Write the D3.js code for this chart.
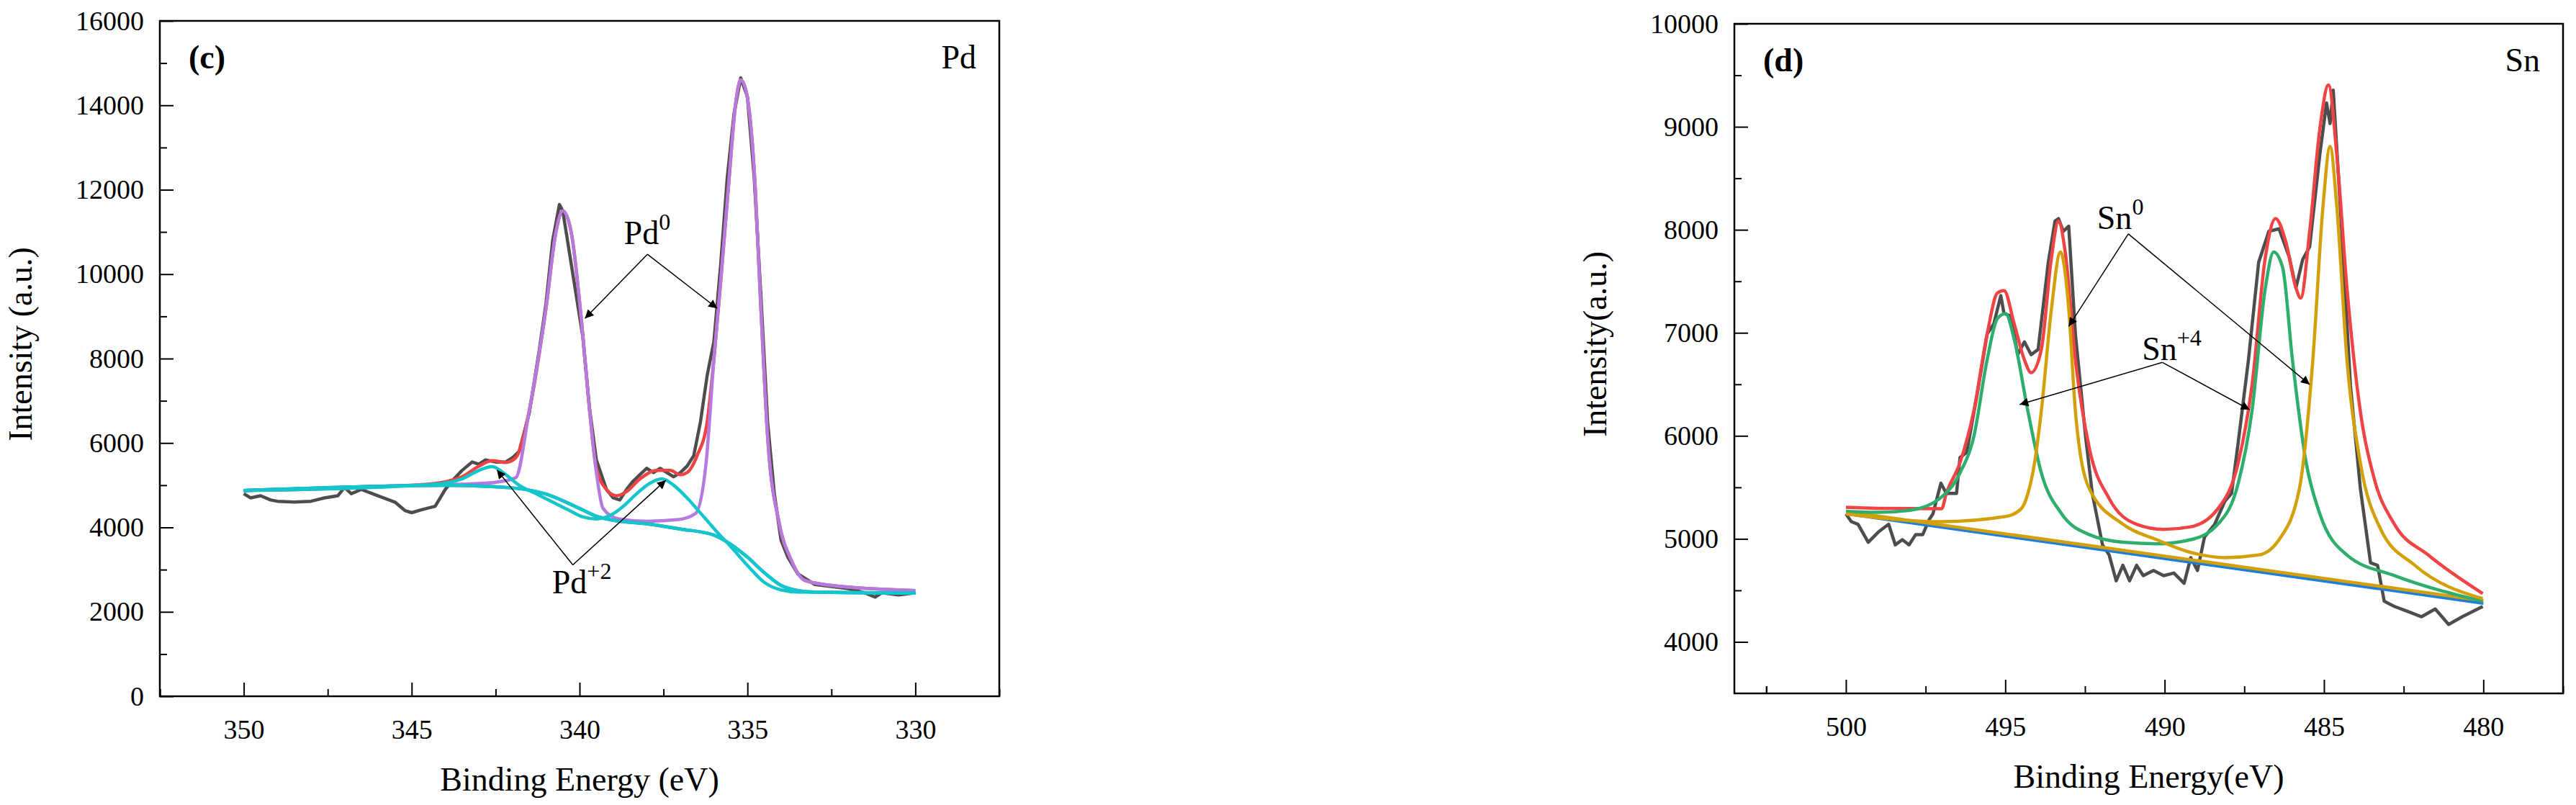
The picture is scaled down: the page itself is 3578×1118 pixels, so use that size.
<!DOCTYPE html>
<html>
<head>
<meta charset="utf-8">
<script src="https://cdn.jsdelivr.net/npm/d3@7"></script>
<style>
  body { margin: 0; background: #fff; }
  text { font-family: "Liberation Serif", "Times New Roman", serif; }
</style>
</head>
<body>
<div class="chart"></div>
<script>
// ---- Pd 3d data (eV, intensity) ----
var pdRaw = [[350,4800],[349.8,4700],[349.5,4750],[349.2,4650],[349,4620],[348.5,4600],[348,4620],[347.6,4700],[347.2,4750],[347,4950],[346.8,4800],[346.5,4900],[346,4750],[345.5,4600],[345.2,4400],[345,4350],[344.7,4420],[344.3,4500],[344,4900],[343.8,5100],[343.5,5350],[343.2,5550],[343,5500],[342.8,5600],[342.5,5550],[342.2,5550],[342,5650],[341.8,5800],[341.5,6700],[341.2,8200],[341,9300],[340.8,10800],[340.6,11650],[340.5,11500],[340.3,10500],[340.1,9500],[339.9,8500],[339.7,6800],[339.5,5600],[339.2,4900],[339,4700],[338.8,4650],[338.6,4900],[338.4,5100],[338.2,5250],[338,5400],[337.8,5300],[337.6,5400],[337.4,5300],[337.2,5200],[337,5300],[336.8,5450],[336.6,5700],[336.4,6500],[336.2,7600],[336,8400],[335.8,10200],[335.6,12300],[335.4,13800],[335.2,14650],[335,14200],[334.8,12300],[334.6,9500],[334.4,6500],[334.2,4800],[334,3700],[333.8,3300],[333.5,2900],[333,2650],[332.5,2600],[332,2550],[331.5,2450],[331.2,2350],[331,2450],[330.5,2400],[330,2450]];
var pdEnvelope = [[350,4875],[345,5000],[344,5080],[343.5,5200],[343,5450],[342.6,5580],[342.2,5540],[341.9,5650],[341.5,6760],[341,9190],[340.7,11015],[340.5,11500],[340.25,11000],[339.95,8950],[339.7,6760],[339.5,5400],[339.2,4900],[338.9,4750],[338.6,4850],[338.2,5150],[337.7,5350],[337.3,5350],[337,5250],[336.8,5300],[336.5,5700],[336.2,6500],[336,7976],[335.8,9800],[335.55,12231],[335.35,14055],[335.2,14602],[335.03,14298],[334.8,12474],[334.6,9191],[334.4,6152],[334.05,4085],[333.7,3234],[333.3,2748],[332.5,2626],[330,2505]];
var pdZero = [[350,4875],[345,5000],[343,5040],[342.5,5070],[341.9,5179],[341.5,6760],[341,9190],[340.7,11015],[340.5,11500],[340.25,11000],[339.95,8950],[339.7,6760],[339.5,5301],[339.3,4450],[338.85,4207],[338,4146],[337.1,4182],[336.55,4328],[336.23,5544],[336,7976],[335.8,9800],[335.55,12231],[335.35,14055],[335.2,14602],[335.03,14298],[334.8,12474],[334.6,9191],[334.4,6152],[334.05,4085],[333.7,3234],[333.3,2748],[332.5,2626],[330,2505]];
var pdTwo = [[350,4875],[345,4990],[344,5050],[343.5,5150],[343,5350],[342.6,5440],[342.2,5250],[341.8,5000],[341.3,4800],[340.8,4600],[340.3,4400],[339.9,4250],[339.5,4200],[339.1,4280],[338.7,4500],[338.3,4800],[337.9,5050],[337.55,5150],[337.2,5000],[336.8,4700],[336.3,4250],[335.8,3800],[335.5,3550],[335,3100],[334.5,2700],[334,2520],[333.5,2470],[330,2445]];
var pdBackground = [[350,4875],[345,4990],[344,5000],[342,4936],[341,4790],[340,4450],[339.5,4268],[339,4170],[338,4085],[337,3963],[336,3818],[335.5,3600],[335,3295],[334.5,2930],[334,2626],[333.5,2505],[333,2468],[330,2444]];

// ---- Sn 3d data ----
var snRaw = [[500,5242],[499.83,5167],[499.62,5142],[499.3,4967],[498.98,5067],[498.66,5142],[498.45,4942],[498.23,4992],[498.02,4942],[497.81,5042],[497.59,5042],[497.38,5192],[497.27,5242],[497.02,5541],[496.85,5441],[496.53,5441],[496.42,5790],[496.21,5840],[495.89,6389],[495.57,6987],[495.36,7087],[495.14,7361],[495.04,7187],[494.82,7162],[494.61,6788],[494.4,6912],[494.19,6788],[493.97,6838],[493.65,7685],[493.44,8085],[493.33,8109],[493.18,7985],[493.01,8035],[492.8,6987],[492.48,5990],[492.27,5441],[491.95,4942],[491.74,4843],[491.52,4593],[491.31,4743],[491.1,4593],[490.88,4743],[490.67,4643],[490.35,4693],[490.03,4643],[489.71,4668],[489.39,4568],[489.18,4818],[488.97,4693],[488.75,5017],[488.43,5142],[488.11,5366],[487.9,5441],[487.69,5940],[487.37,6738],[487.05,7685],[486.73,7985],[486.41,8010],[486.09,7735],[485.88,7436],[485.67,7711],[485.45,7835],[485.13,8733],[484.92,9231],[484.81,9032],[484.71,9356],[484.49,8234],[484.17,6488],[483.86,5491],[483.54,4768],[483.32,4743],[483.11,4394],[482.79,4344],[482.36,4294],[481.94,4244],[481.51,4319],[481.09,4169],[480.66,4244],[480.02,4344]];
var snEnvelope = [[500,5307],[499,5297],[497,5292],[496.85,5441],[496.42,5740],[495.99,6239],[495.57,6987],[495.25,7386],[495.04,7411],[494.72,7087],[494.4,6738],[494.19,6613],[493.87,6838],[493.55,7735],[493.33,8085],[493.12,7785],[492.8,6738],[492.37,5890],[491.74,5391],[490.88,5142],[490.03,5092],[489.18,5117],[488.33,5292],[487.69,5740],[487.26,6488],[486.84,7735],[486.52,8110],[486.2,7885],[485.88,7436],[485.73,7337],[485.45,7985],[485.13,8982],[484.86,9406],[484.6,8733],[484.28,7436],[483.86,6239],[483.43,5591],[482.79,5142],[481.73,4843],[480.02,4469]];
var snFour = [[500,5267],[499,5257],[498,5277],[497.06,5391],[496.42,5641],[495.99,5990],[495.57,6738],[495.25,7137],[494.99,7187],[494.72,6938],[494.29,6239],[493.87,5641],[493.23,5242],[492.37,5042],[491.31,4967],[490.25,4952],[489.18,4992],[488.33,5142],[487.69,5541],[487.26,6239],[486.84,7436],[486.58,7785],[486.3,7636],[485.99,6738],[485.56,5740],[485.13,5242],[484.28,4843],[482.79,4643],[480.02,4394]];
var snZero = [[500,5242],[497,5167],[494.99,5217],[494.5,5292],[494.29,5441],[494.08,5740],[493.87,6239],[493.55,7237],[493.27,7785],[493.01,7237],[492.8,6239],[492.37,5491],[491.31,5142],[490.25,4992],[489.18,4868],[488.11,4818],[487.05,4843],[486.41,4992],[485.77,5491],[485.35,6738],[485.03,8234],[484.81,8808],[484.6,8234],[484.28,6738],[483.86,5740],[483.22,5092],[482.15,4743],[480.02,4419]];
var snBackground = [[500,5245],[480,4375]];
var snBackground2 = [[500,5265],[480,4400]];

var xTicksPd = [350,345,340,335,330];
var yTicksPd = [0,2000,4000,6000,8000,10000,12000,14000,16000];
var xTicksSn = [500,495,490,485,480];
var yTicksSn = [4000,5000,6000,7000,8000,9000,10000];

var svg = d3.select(".chart")
    .append("svg")
    .attr("width", 3578)
    .attr("height", 1118)

svg.append("defs").append("marker")
    .attr("id", "arrow")
    .attr("viewBox", "0 0 10 10")
    .attr("refX", 10).attr("refY", 5)
    .attr("markerWidth", 22).attr("markerHeight", 12)
    .attr("markerUnits", "userSpaceOnUse")
    .attr("orient", "auto")
    .append("path")
    .attr("d", "M0,0 L10,5 L0,10 Z")
    .attr("fill", "#000")

function panel(p) {
    var x = d3.scaleLinear().domain(p.xDomain).range(p.xRange);
    var y = d3.scaleLinear().domain(p.yDomain).range(p.yRange);
    var g = svg.append("g");

    // frame
    g.append("rect")
        .attr("x", p.xRange[0]).attr("y", p.yRange[1])
        .attr("width", p.xRange[1] - p.xRange[0])
        .attr("height", p.yRange[0] - p.yRange[1])
        .attr("fill", "none").attr("stroke", "#000").attr("stroke-width", 2.5)

    // x axis, ticks inside
    var xMinor = d3.range(p.xTicks[0] + 2.5, p.xTicks[p.xTicks.length - 1] - 2.6, -5);
    xMinor.push(p.xTicks[0] + 2.5 - 5 < p.xDomain[0] ? p.xTicks[0] + 2.5 : p.xTicks[0] + 2.5);
    g.append("g")
        .attr("transform", "translate(0," + p.yRange[0] + ")")
        .call(d3.axisBottom(x).tickValues(p.xTicks).tickSize(-19).tickSizeOuter(0).tickPadding(30))
        .call(function (a) { a.select(".domain").remove(); })
        .call(function (a) { a.selectAll("line").attr("stroke-width", 2); })
        .call(function (a) { a.selectAll("text").attr("font-size", 38).attr("font-family", "Liberation Serif").attr("dy", "0.75em"); })
    g.append("g")
        .attr("transform", "translate(0," + p.yRange[0] + ")")
        .call(d3.axisBottom(x).tickValues(xMinor).tickSize(-10).tickFormat(""))
        .call(function (a) { a.select(".domain").remove(); a.selectAll("line").attr("stroke-width", 2); })

    // y axis
    var yMinor = p.yTicks.slice(0, -1).map(function (v, i) { return (v + p.yTicks[i + 1]) / 2; });
    g.append("g")
        .attr("transform", "translate(" + p.xRange[0] + ",0)")
        .call(d3.axisLeft(y).tickValues(p.yTicks).tickSize(-19).tickPadding(22).tickFormat(d3.format("d")))
        .call(function (a) { a.select(".domain").remove(); a.selectAll("line").attr("stroke-width", 2); })
        .call(function (a) { a.selectAll("text").attr("font-size", 38).attr("font-family", "Liberation Serif"); })
    g.append("g")
        .attr("transform", "translate(" + p.xRange[0] + ",0)")
        .call(d3.axisLeft(y).tickValues(yMinor).tickSize(-10).tickFormat(""))
        .call(function (a) { a.select(".domain").remove(); a.selectAll("line").attr("stroke-width", 2); })

    // curves
    p.series.forEach(function (s) {
        var line = d3.line()
            .x(function (d) { return x(d[0]); })
            .y(function (d) { return y(d[1]); })
            .curve(s.smooth ? d3.curveMonotoneX : d3.curveLinear);
        g.append("path")
            .datum(s.data)
            .attr("d", line)
            .attr("fill", "none")
            .attr("stroke", s.color)
            .attr("stroke-width", 4.5)
            .attr("stroke-linejoin", "round")
    });

    // annotations
    p.notes.forEach(function (n) {
        n.tips.forEach(function (t) {
            g.append("line")
                .attr("x1", x(n.from[0])).attr("y1", y(n.from[1]))
                .attr("x2", x(t[0])).attr("y2", y(t[1]))
                .attr("stroke", "#000").attr("stroke-width", 1.5)
                .attr("marker-end", "url(#arrow)")
        });
        var t = g.append("text")
            .attr("x", x(n.at[0])).attr("y", y(n.at[1]))
            .attr("font-size", 46)
            .text(n.label);
        t.append("tspan").attr("font-size", 32).attr("dy", -20).text(n.sup);
    });

    g.append("text")
        .attr("x", p.xRange[0] + 40).attr("y", p.yRange[1] + 66)
        .attr("font-size", 46).attr("font-weight", "bold")
        .text(p.tag)
    g.append("text")
        .attr("x", p.xRange[1] - 32).attr("y", p.yRange[1] + 66)
        .attr("font-size", 46).attr("text-anchor", "end")
        .text(p.element)
    g.append("text")
        .attr("x", (p.xRange[0] + p.xRange[1]) / 2).attr("y", p.yRange[0] + 131)
        .attr("font-size", 46).attr("text-anchor", "middle")
        .text(p.xTitle)
    g.append("text")
        .attr("transform", "translate(" + (p.xRange[0] - 178) + "," + ((p.yRange[0] + p.yRange[1]) / 2 - 20) + ") rotate(-90)")
        .attr("font-size", 46).attr("text-anchor", "middle")
        .text(p.yTitle)
}

panel({
    xDomain: [352.5, 327.5], xRange: [222, 1388],
    yDomain: [0, 16000], yRange: [967, 29],
    xTicks: xTicksPd, yTicks: yTicksPd,
    tag: "(c)", element: "Pd",
    xTitle: "Binding Energy (eV)", yTitle: "Intensity (a.u.)",
    series: [
        { data: pdRaw, color: "#4d4d4d" },
        { data: pdEnvelope, color: "#f04444", smooth: true },
        { data: pdZero, color: "#b57ae0", smooth: true },
        { data: pdBackground, color: "#1a7de0", smooth: true },
        { data: pdTwo, color: "#12c6cc", smooth: true },
        { data: pdBackground, color: "#12c6cc", smooth: true }
    ],
    notes: [
        { label: "Pd", sup: "0", at: [338.68, 10710], from: [337.98, 10470], tips: [[339.84, 8950], [335.9, 9190]] },
        { label: "Pd", sup: "+2", at: [340.82, 2444], from: [340.2, 3112], tips: [[342.46, 5362], [337.43, 5119]] }
    ]
});

panel({
    xDomain: [503.5, 477.5], xRange: [2409, 3560],
    yDomain: [3500, 10000], yRange: [963, 33],
    xTicks: xTicksSn, yTicks: yTicksSn,
    tag: "(d)", element: "Sn",
    xTitle: "Binding Energy(eV)", yTitle: "Intensity(a.u.)",
    series: [
        { data: snRaw, color: "#4d4d4d" },
        { data: snBackground, color: "#1a7de0" },
        { data: snBackground2, color: "#d4a00a" },
        { data: snEnvelope, color: "#f04444", smooth: true },
        { data: snFour, color: "#2eae6c", smooth: true },
        { data: snZero, color: "#d4a00a", smooth: true }
    ],
    notes: [
        { label: "Sn", sup: "0", at: [492.12, 8010], from: [491.14, 7960], tips: [[493.01, 7062], [485.45, 6498]] },
        { label: "Sn", sup: "+4", at: [490.71, 6738], from: [490.07, 6713], tips: [[494.55, 6304], [487.33, 6254]] }
    ]
});
</script>
</body>
</html>
